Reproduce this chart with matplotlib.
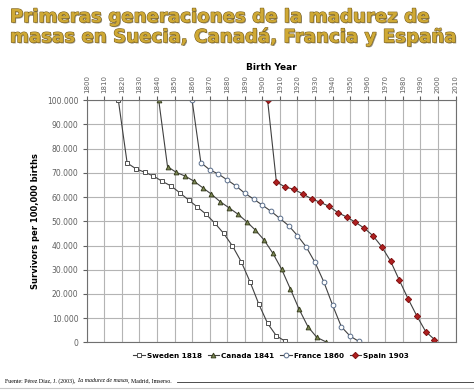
import numpy as np
import matplotlib
matplotlib.use('Agg')
import matplotlib.pyplot as plt
import matplotlib.patheffects as pe
from matplotlib.ticker import FuncFormatter

# birth cohorts, survivors per 100,000 births, every 5 years
sweden_years = np.arange(1818, 1914, 5)
sweden_vals = [100000, 74100, 71700, 70250, 68700, 66500, 64600, 61800, 58800, 55900,
               52900, 49200, 45000, 39800, 33300, 25000, 15800, 7850, 2700, 500]
canada_years = np.arange(1841, 1937, 5)
canada_vals = [100000, 72600, 70200, 68700, 66600, 63900, 61200, 58100, 55600, 53000,
               49900, 46400, 42300, 36800, 30200, 22000, 13600, 6450, 2100, 300]
france_years = np.arange(1860, 1956, 5)
france_vals = [100000, 74200, 71300, 69500, 67100, 64600, 61600, 59200, 56700, 54100,
               51200, 48200, 44100, 39400, 33000, 25000, 15400, 6450, 2600, 400]
spain_years = np.arange(1903, 1999, 5)
spain_vals = [100000, 66200, 64200, 63200, 61300, 59300, 57850, 56200, 53600, 51800,
              49600, 47200, 44050, 39500, 33600, 25700, 18000, 10900, 4500, 1200]

x_ticks = np.arange(1800, 2011, 10)
y_ticks = np.arange(0, 100001, 10000)

fig = plt.figure(figsize=(4.74, 3.90), dpi=100)
ax = fig.add_axes([0.183, 0.122, 0.778, 0.621])

line_kw = dict(color='#404040', lw=0.8, ms=3.4, mew=0.7)
ax.plot(sweden_years, sweden_vals, marker='s', mfc='white', mec='#505050',
        label='Sweden 1818', **line_kw)
ax.plot(canada_years, canada_vals, marker='^', mfc='#7d8a55', mec='#3a4020',
        label='Canada 1841', **line_kw)
ax.plot(france_years, france_vals, marker='o', mfc='white', mec='#5a6e8c',
        label='France 1860', **line_kw)
ax.plot(spain_years, spain_vals, marker='D', mfc='#b02020', mec='#801010',
        label='Spain 1903', **dict(line_kw, ms=3.2))

ax.set_xlim(1800, 2010)
ax.set_ylim(0, 100000)
ax.set_xticks(x_ticks)
ax.set_yticks(y_ticks)
ax.xaxis.tick_top()
ax.xaxis.set_label_position('top')
ax.tick_params(axis='x', labelsize=5, labelrotation=90, colors='#606060', length=3, pad=2)
ax.tick_params(axis='y', labelsize=5.5, colors='#606060', length=3, pad=3)
ax.yaxis.set_major_formatter(FuncFormatter(lambda v, p: '0' if v == 0 else f'{int(v):,}'.replace(',', '.')))
ax.grid(True, color='#b4b4b4', lw=0.8)
ax.set_axisbelow(True)
for s in ax.spines.values():
    s.set_color('#707070')
    s.set_linewidth(0.8)

ax.set_xlabel('Birth Year', fontsize=6.5, fontweight='bold', labelpad=4)
ax.set_ylabel('Survivors per 100,000 births', fontsize=6, fontweight='bold', labelpad=5)

leg = ax.legend(loc='center', bbox_to_anchor=(0.5, -0.055), ncol=4, frameon=False,
                prop=dict(size=5.2, weight='bold'), handlelength=1.6, handletextpad=0.3,
                columnspacing=0.8, borderaxespad=0)

title_fx = [pe.SimplePatchShadow(offset=(0.8, -0.8), shadow_rgbFace='#3a3010', alpha=0.5),
            pe.Stroke(linewidth=0.8, foreground='#7a6020'), pe.Normal()]
fig.text(0.021, 0.956, 'Primeras generaciones de la madurez de', fontsize=13.1,
         fontweight='bold', color='#cfa935', va='center', path_effects=title_fx)
fig.text(0.021, 0.905, 'masas en Suecia, Canadá, Francia y España', fontsize=13.1,
         fontweight='bold', color='#cfa935', va='center', path_effects=title_fx)

# footer: source with italic title
fy = 0.02
t1 = fig.text(0.011, fy, 'Fuente: Pérez Díaz, J. (2003), ', fontsize=4.2,
              family='Liberation Serif', va='baseline')
t2 = fig.text(0, fy, 'La madurez de masas', fontsize=4.2, family='Liberation Serif',
              style='italic', va='baseline')
t3 = fig.text(0, fy, ', Madrid, Imserso.', fontsize=4.2, family='Liberation Serif',
              va='baseline')
fig.canvas.draw()
r = fig.canvas.get_renderer()
t2.set_x(t1.get_window_extent(r).x1 / fig.bbox.width)
fig.canvas.draw()
t3.set_x(t2.get_window_extent(r).x1 / fig.bbox.width)
fig.canvas.draw()
x_end = t3.get_window_extent(r).x1 / fig.bbox.width
fig.add_artist(plt.Line2D([x_end + 0.01, 1.0], [fy, fy], color='#303030', lw=0.6))
fig.add_artist(plt.Line2D([0.0, 1.0], [0.004, 0.004], color='#c8c8c8', lw=0.8))

fig.savefig('out.png', dpi=100)
